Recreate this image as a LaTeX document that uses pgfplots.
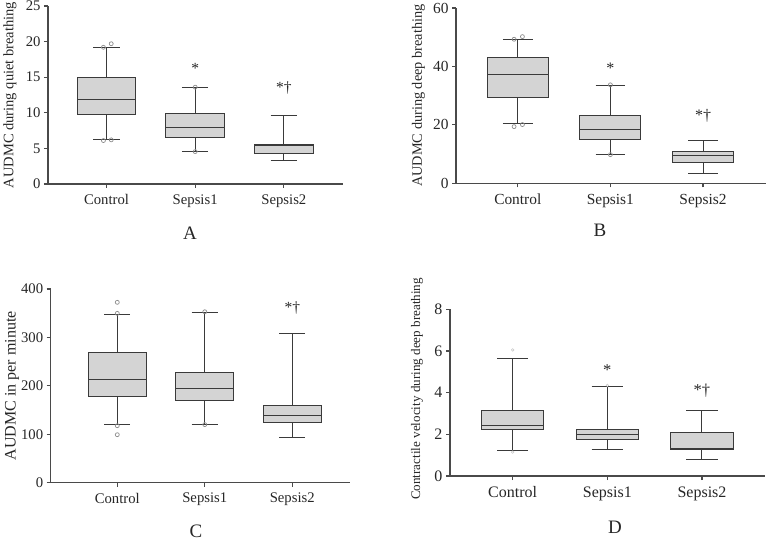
\documentclass[border=0pt]{standalone}
\usepackage{fontspec}
\setmainfont{Liberation Serif}
\usepackage{pgfplots}
\pgfplotsset{compat=1.18}
\usepgfplotslibrary{statistics}
\definecolor{boxfill}{HTML}{D4D4D4}
\definecolor{boxline}{HTML}{3A3A3A}
\definecolor{axline}{HTML}{4A4A4A}
\definecolor{outl}{HTML}{8C8C8C}
\definecolor{txt}{HTML}{262626}

\tikzset{sig/.style={anchor=base, text=txt}}
\pgfplotsset{
 panel/.style={
  scale only axis,
  axis x line=bottom, axis y line=left,
  axis line style={-, axline, line width=1.1pt},
  tick style={axline, line width=1.1pt},
  tick align=outside,
  major tick length=4pt,
  xtick={0,1,2},
  xticklabels={Control,Sepsis1,Sepsis2},
  x tick label style={text=txt, yshift=-3pt},
  y tick label style={text=txt},
  /pgf/number format/assume math mode=true,
  ymin=0,
  clip=false,
  every axis y label/.style={rotate=90, anchor=center, text=txt},
  boxplot/draw direction=y,
 },
 bx/.style={draw=boxline, fill=boxfill, line width=1.0pt, solid},
 outs/.style={only marks, mark=o, mark size=2pt, draw=outl, mark options={line width=0.7pt, draw=outl}},
}

\begin{document}
\begin{tikzpicture}
\useasboundingbox (0,0) rectangle (767pt,540pt);

% ---------------- Panel A
\begin{axis}[panel,
  at={(48pt,356pt)}, anchor=south west,
  width=295pt, height=178pt,
  xmin=-0.66, xmax=2.667, ymax=25, ytick={0,5,10,15,20,25},
  tick label style={font=\fontsize{14.7}{16}\selectfont},
  ylabel={AUDMC during quiet breathing},
  ylabel style={font=\fontsize{14.5}{16}\selectfont, at={(axis description cs:-0.129,0.5)}},
]
\addplot[bx, boxplot prepared={draw position=0, lower whisker=6.23, lower quartile=9.78, median=11.9, upper quartile=14.93, upper whisker=19.15, box extend=0.66, whisker extend=0.3}] coordinates {};
\addplot[bx, boxplot prepared={draw position=1, lower whisker=4.63, lower quartile=6.46, median=7.96, upper quartile=9.88, upper whisker=13.53, box extend=0.66, whisker extend=0.3}] coordinates {};
\addplot[bx, boxplot prepared={draw position=2, lower whisker=3.23, lower quartile=4.26, median=5.38, upper quartile=5.57, upper whisker=9.6, box extend=0.66, whisker extend=0.3}] coordinates {};
\addplot[outs] coordinates {(-0.035,19.2) (0.053,19.7) (-0.035,6.1) (0.053,6.2) (1,13.6) (1,4.55)};
\node[sig, font=\fontsize{15.5}{17}\selectfont] at (axis cs:1,15.55) {*};
\node[sig, font=\fontsize{15.5}{17}\selectfont] at (axis cs:2,12.84) {*†};
\end{axis}

% ---------------- Panel B
\begin{axis}[panel,
  at={(456pt,356.7pt)}, anchor=south west,
  width=310pt, height=175.3pt,
  xmin=-0.667, xmax=2.68, ymax=60, ytick={0,20,40,60},
  tick label style={font=\fontsize{15.4}{17}\selectfont},
  ylabel={AUDMC during deep breathing},
  ylabel style={font=\fontsize{14.3}{16}\selectfont, at={(axis description cs:-0.121,0.5)}},
]
\addplot[bx, boxplot prepared={draw position=0, lower whisker=20.3, lower quartile=29.5, median=37.3, upper quartile=43.0, upper whisker=49.26, box extend=0.66, whisker extend=0.32}] coordinates {};
\addplot[bx, boxplot prepared={draw position=1, lower whisker=9.8, lower quartile=15.05, median=18.5, upper quartile=23.1, upper whisker=33.6, box extend=0.66, whisker extend=0.32}] coordinates {};
\addplot[bx, boxplot prepared={draw position=2, lower whisker=3.5, lower quartile=7.2, median=9.35, upper quartile=10.9, upper whisker=14.8, box extend=0.66, whisker extend=0.32}] coordinates {};
\addplot[outs] coordinates {(-0.04,49.3) (0.05,50.2) (-0.04,19.4) (0.05,20.1) (1,33.7) (1,9.8)};
\node[sig, font=\fontsize{16}{18}\selectfont] at (axis cs:1,37.5) {*};
\node[sig, font=\fontsize{16}{18}\selectfont] at (axis cs:2,21.6) {*†};
\end{axis}

% ---------------- Panel C
\begin{axis}[panel,
  at={(50.7pt,57.3pt)}, anchor=south west,
  width=299.3pt, height=193.7pt,
  xmin=-0.761, xmax=2.66, ymax=400, ytick={0,100,200,300,400},
  tick label style={font=\fontsize{14.7}{16}\selectfont},
  ylabel={AUDMC in per minute},
  ylabel style={font=\fontsize{16}{18}\selectfont, at={(axis description cs:-0.129,0.5)}},
]
\addplot[bx, boxplot prepared={draw position=0, lower whisker=120.5, lower quartile=178.3, median=214.1, upper quartile=269.2, upper whisker=347.7, box extend=0.66, whisker extend=0.3}] coordinates {};
\addplot[bx, boxplot prepared={draw position=1, lower whisker=120.5, lower quartile=170, median=193.5, upper quartile=228.6, upper whisker=352.5, box extend=0.66, whisker extend=0.3}] coordinates {};
\addplot[bx, boxplot prepared={draw position=2, lower whisker=93.6, lower quartile=123.9, median=139, upper quartile=159.7, upper whisker=309.1, box extend=0.66, whisker extend=0.3}] coordinates {};
\addplot[outs] coordinates {(0,372.5) (0,349.7) (0,117.7) (0,99.1) (1,353) (1,120)};
\node[sig, font=\fontsize{15.5}{17}\selectfont] at (axis cs:2,351) {*†};
\end{axis}

% ---------------- Panel D
\begin{axis}[panel,
  at={(450pt,64pt)}, anchor=south west,
  width=315pt, height=166.7pt,
  xmin=-0.662, xmax=2.666, ymax=8, ytick={0,2,4,6,8},
  tick label style={font=\fontsize{16}{18}\selectfont},
  ylabel={Contractile velocity during deep breathing},
  ylabel style={font=\fontsize{13.1}{15}\selectfont, at={(axis description cs:-0.105,0.522)}},
]
\addplot[bx, boxplot prepared={draw position=0, lower whisker=1.23, lower quartile=2.21, median=2.42, upper quartile=3.14, upper whisker=5.63, box extend=0.66, whisker extend=0.33}] coordinates {};
\addplot[bx, boxplot prepared={draw position=1, lower whisker=1.26, lower quartile=1.76, median=1.98, upper quartile=2.24, upper whisker=4.29, box extend=0.66, whisker extend=0.33}] coordinates {};
\addplot[bx, boxplot prepared={draw position=2, lower whisker=0.77, lower quartile=1.25, median=1.31, upper quartile=2.08, upper whisker=3.15, box extend=0.66, whisker extend=0.33}] coordinates {};
\addplot[outs, mark size=1.3pt, draw=outl!50, mark options={draw=outl!50, line width=0.5pt}] coordinates {(0,6.05) (0,1.15) (1,4.35)};
\node[sig, font=\fontsize{16.5}{18}\selectfont] at (axis cs:1,4.83) {*};
\node[sig, font=\fontsize{16.5}{18}\selectfont] at (axis cs:2,3.84) {*†};
\end{axis}

% ---------------- Panel letters
\node[inner sep=0pt, font=\fontsize{19}{21}\selectfont, text=txt] at (190pt,306.5pt) {A};
\node[inner sep=0pt, font=\fontsize{19}{21}\selectfont, text=txt] at (600pt,309.5pt) {B};
\node[inner sep=0pt, font=\fontsize{19}{21}\selectfont, text=txt] at (196pt,9pt) {C};
\node[inner sep=0pt, font=\fontsize{19}{21}\selectfont, text=txt] at (615pt,12.5pt) {D};
\end{tikzpicture}
\end{document}
